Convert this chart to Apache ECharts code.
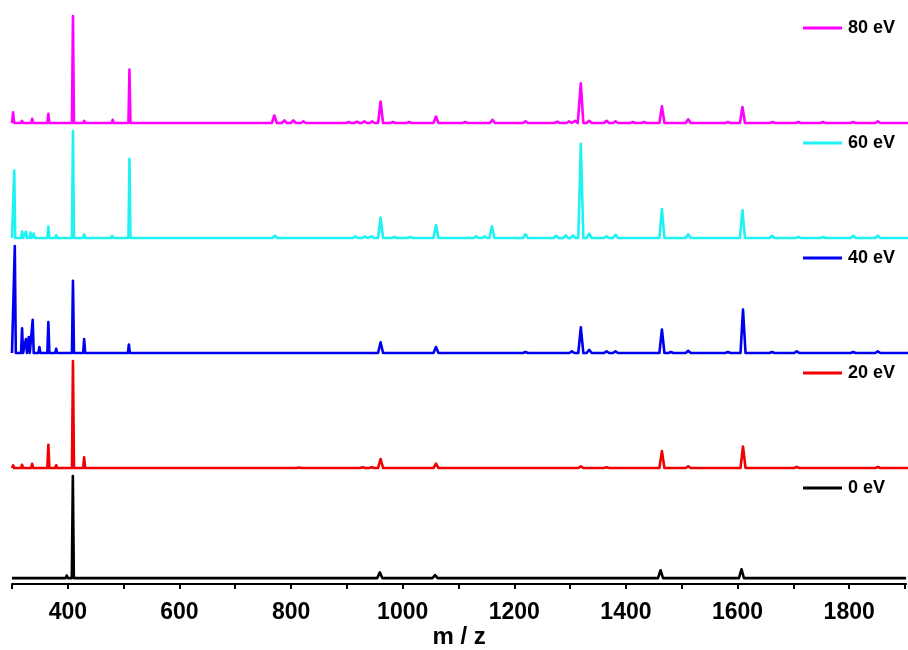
<!DOCTYPE html>
<html>
<head>
<meta charset="utf-8">
<script src="https://cdn.jsdelivr.net/npm/echarts@6/dist/echarts.min.js"></script>
<style>
html,body{margin:0;padding:0;background:#fff;}
#chart{width:908px;height:650px;}
</style>
</head>
<body>
<div id="chart"></div>
<script>
// ---- data (m/z, relative intensity %) ----
const seriesNames = ['80 eV', '60 eV', '40 eV', '20 eV', '0 eV'];
const peaks80 = [[302,10],[318,2],[336,4],[365,8.5],[380,1.5],[409,100],[429,2],[480,3],[510,50],[580,1],[607,1],[625,1],[769,7],[787,2.5],[803,2.5],[821,1.5],[902,1],[917,1.2],[930,1.5],[944,1.5],[959,20],[981,1],[1010,1],[1058,6],[1110,1],[1159,3],[1218,1.5],[1275,1.2],[1296,1.5],[1307,2],[1317,37],[1332,2],[1363,2],[1379,1.5],[1410,1],[1430,1],[1462,15.6],[1509,3.5],[1580,1],[1606,15],[1660,1],[1706,1],[1750,1],[1804,1],[1848,1.5]];
const peaks60 = [[304,63],[318,6],[325,6],[333,5],[339,4],[365,10.6],[379,2.5],[409,100],[429,3.4],[479,2],[510,74],[609,1.5],[632,1],[770,2],[914,1.5],[931,1.5],[943,1.5],[959,19],[984,1],[1012,1],[1058,12],[1130,1.5],[1145,1.5],[1158,11],[1218,3.4],[1273,2],[1290,2.5],[1303,2.5],[1317,88],[1332,4],[1363,1.5],[1379,3],[1462,27],[1509,3.4],[1606,26],[1659,2],[1706,1],[1750,1],[1804,2],[1848,2]];
const peaks40 = [[305,100],[318,23],[325,13],[330,15],[337,31],[349,5.6],[365,29],[379,4],[409,67.5],[429,13],[509,8],[606,1],[959,10],[1058,5.6],[1218,1],[1301,1.5],[1317,24],[1332,3],[1363,1.5],[1379,1.5],[1462,22],[1478,1],[1509,2],[1580,1],[1607,40.6],[1659,1],[1703,1.5],[1804,1],[1848,1.5]];
const peaks20 = [[302,2.5],[318,3],[336,4],[352,1],[365,21.7],[379,2.5],[409,100],[429,10],[509,0.5],[813,0.5],[927,0.7],[943,0.7],[959,8.4],[1058,4],[1317,1.5],[1363,0.7],[1462,15.8],[1509,1.5],[1607,20],[1703,1],[1848,1]];
const peaks0 = [[367,0.6],[383,0.7],[398,2.5],[409,100],[417,0.8],[959,5.6],[1058,3],[1462,7.7],[1607,8.7]];
const tickStep = 100;     // ticks every 100, labels every 200
const labelStep = 200;
const xMin = 300, xMax = 1902;

// ---- styles / layout ----
const allPeaks = [peaks80, peaks60, peaks40, peaks20, peaks0];
const colors = ['#ff00ff', '#1ef2f2', '#0000f0', '#f00000', '#000000'];
const baselines = [123, 238, 353, 468, 583];
const panelH = 107;
const FONT = '"Liberation Sans", Arial, sans-serif';

function halfWidth(m) { return m < 700 ? 1.8 : 4.5; }
function build(peaks) {
  const pts = [];
  if (peaks[0][0] - halfWidth(peaks[0][0]) > xMin) pts.push([xMin, 0]);
  peaks.forEach(([m, h]) => {
    const w = halfWidth(m);
    pts.push([m - w, 0], [m, h], [m + w, 0]);
  });
  pts.push([xMax, 0]);
  return pts;
}

const grids = [], xAxes = [], yAxes = [], series = [], legends = [];
baselines.forEach((b, i) => {
  grids.push({ left: 12, width: 896, top: b - panelH, height: panelH });
  yAxes.push({ type: 'value', gridIndex: i, min: 0, max: 100, show: false });
  const isBottom = i === baselines.length - 1;
  xAxes.push({
    type: 'value', gridIndex: i, min: xMin, max: xMax, interval: tickStep,
    show: isBottom,
    position: 'bottom', offset: 6,
    splitLine: { show: false },
    axisLine: { show: true, onZero: false, lineStyle: { color: '#000', width: 2 } },
    axisTick: { show: true, length: 5, inside: false, lineStyle: { color: '#000', width: 2 } },
    axisLabel: {
      show: true, margin: 17, color: '#000', fontSize: 23, fontWeight: 'bold', fontFamily: FONT,
      showMinLabel: true, showMaxLabel: false,
      formatter: v => (v % labelStep === 0 ? String(v) : '')
    },
    name: isBottom ? 'm / z' : '',
    nameLocation: 'middle', nameGap: 34,
    nameTextStyle: { color: '#000', fontSize: 24, fontWeight: 'bold', fontFamily: FONT }
  });
  series.push({
    name: seriesNames[i], type: 'line', xAxisIndex: i, yAxisIndex: i,
    data: build(allPeaks[i]), symbol: 'none', showSymbol: false, clip: false,
    color: colors[i],
    lineStyle: { color: colors[i], width: 2.6, join: 'round' },
    itemStyle: { color: colors[i] },
    emphasis: { disabled: true }
  });
  legends.push({
    data: [seriesNames[i]], left: 803, top: b - 96 - 8, padding: 0,
    icon: 'rect', itemWidth: 39, itemHeight: 3, selectedMode: false,
    textStyle: { color: '#000', fontSize: 18, fontWeight: 'bold', fontFamily: FONT, padding: [0, 0, 0, 1] }
  });
});

const chart = echarts.init(document.getElementById('chart'), null, { renderer: 'canvas' });
chart.setOption({
  animation: false,
  backgroundColor: '#fff',
  grid: grids, xAxis: xAxes, yAxis: yAxes, series: series, legend: legends
});
</script>
</body>
</html>
